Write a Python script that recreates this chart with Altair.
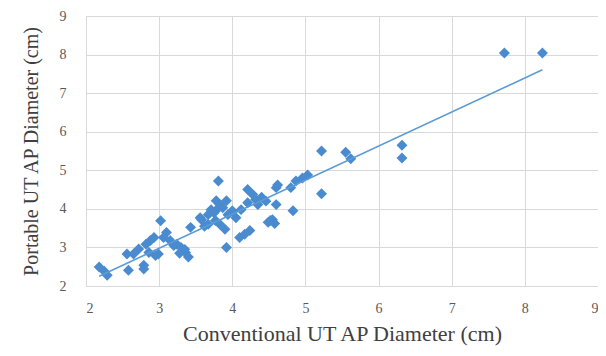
import altair as alt
import pandas as pd

conventional = [
    2.18, 2.29, 2.25, 2.58, 2.79, 2.79, 2.56, 2.65, 2.72, 2.82, 2.88, 2.93, 3.02,
    2.86, 2.95, 2.99, 3.06, 3.10, 3.15, 3.20, 3.24, 3.30, 3.36, 3.40, 3.43, 3.56,
    3.35, 3.28,
    3.81, 3.58, 3.67, 3.71, 3.78, 3.83, 3.87, 3.92, 3.94, 3.77, 3.67, 3.83, 3.90,
    3.92, 4.10, 4.17, 4.24, 4.05, 4.12, 4.21, 4.21, 4.28, 4.32, 4.35, 4.49, 4.55,
    4.60, 4.60, 4.62, 4.83, 4.80, 4.87, 4.96, 5.03, 4.46, 3.62, 3.75, 3.80, 4.00,
    4.40, 4.58, 4.52,
    5.22, 5.55, 5.62, 5.22, 6.32, 6.32, 7.72, 8.24,
]
portable = [
    2.49, 2.28, 2.38, 2.41, 2.44, 2.54, 2.83, 2.83, 2.96, 3.08, 3.18, 3.26, 3.69,
    2.87, 2.79, 2.83, 3.26, 3.39, 3.18, 3.05, 3.08, 3.00, 2.87, 2.75, 3.52, 3.77,
    2.95, 2.85,
    4.72, 3.72, 3.85, 3.98, 4.21, 4.11, 4.03, 4.21, 3.85, 3.70, 3.60, 3.60, 3.47,
    3.00, 3.26, 3.34, 3.44, 3.77, 3.98, 4.16, 4.50, 4.37, 4.24, 4.11, 3.65, 3.72,
    4.11, 4.55, 4.62, 3.95, 4.55, 4.72, 4.80, 4.88, 4.20, 3.55, 3.90, 4.00, 3.95,
    4.30, 3.62, 3.70,
    5.50, 5.47, 5.30, 4.39, 5.65, 5.32, 8.04, 8.04,
]

x_ticks = [2, 3, 4, 5, 6, 7, 8, 9]
y_ticks = [2, 3, 4, 5, 6, 7, 8, 9]

df = pd.DataFrame({"conv": conventional, "port": portable})

blue = "#4a8bd0"
serif = "Liberation Serif"

x_axis = alt.Axis(
    values=x_ticks, format="d", title="Conventional UT AP Diameter (cm)",
    labelFont=serif, labelFontSize=14, labelColor="#595959",
    labelPadding=15, titleFont=serif, titleFontSize=22,
    titleFontWeight="normal", titleColor="#404040", titlePadding=8,
    grid=True, gridColor="#d9d9d9", domain=False, ticks=False,
    labelOverlap=False,
)
y_axis = alt.Axis(
    values=y_ticks, format="d", title="Portable UT AP Diameter (cm)",
    labelFont=serif, labelFontSize=14, labelColor="#595959",
    labelPadding=20, titleFont=serif, titleFontSize=20,
    titleFontWeight="normal", titleColor="#404040", titlePadding=18,
    grid=True, gridColor="#d9d9d9", domain=False, ticks=False,
    labelOverlap=False,
)
x_scale = alt.Scale(domain=[2, 9], nice=False, zero=False)
y_scale = alt.Scale(domain=[2, 9], nice=False, zero=False)

points = alt.Chart(df).mark_point(
    shape="diamond", filled=True, size=120, color=blue, opacity=1
).encode(
    x=alt.X("conv:Q", scale=x_scale, axis=x_axis),
    y=alt.Y("port:Q", scale=y_scale, axis=y_axis),
)

trend = alt.Chart(df).transform_regression("conv", "port").mark_line(
    color="#5b9bd5", strokeWidth=1.6
).encode(
    x=alt.X("conv:Q", scale=x_scale, axis=x_axis),
    y=alt.Y("port:Q", scale=y_scale, axis=y_axis),
)

chart = alt.layer(points, trend).properties(
    width=512, height=270,
    autosize=alt.AutoSizeParams(type="none"),
    padding={"left": 78, "top": 8, "right": 0, "bottom": 62},
).configure_view(stroke=None).configure(background="white")

chart.save("out.html", embed_options={"renderer": "svg", "actions": False})
